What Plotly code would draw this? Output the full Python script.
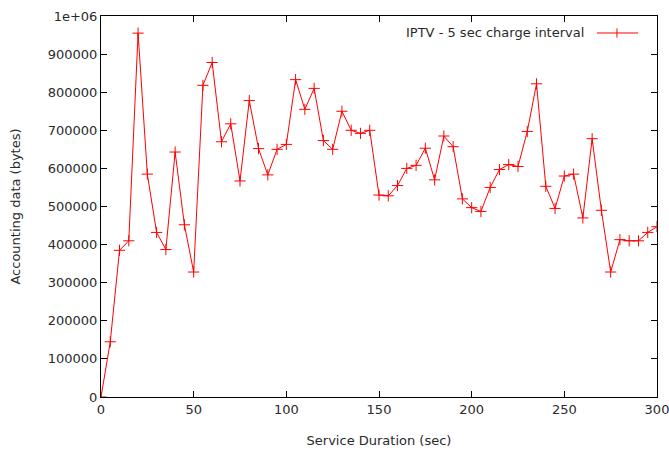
import plotly.graph_objects as go

duration = list(range(0, 301, 5))
accounting = [
    0, 145000, 385000, 410000, 955000, 585000, 432000, 387000, 643000, 452000,
    328000, 818000, 878000, 670000, 717000, 567000, 778000, 652000, 583000, 650000,
    663000, 833000, 755000, 810000, 673000, 650000, 750000, 700000, 692000, 700000,
    530000, 528000, 555000, 600000, 608000, 653000, 570000, 685000, 657000, 520000,
    497000, 487000, 550000, 597000, 610000, 605000, 697000, 822000, 553000, 495000,
    580000, 585000, 470000, 678000, 490000, 328000, 413000, 410000, 410000, 432000,
    447000,
]
series_name = "IPTV - 5 sec charge interval"
x_ticks = [0, 50, 100, 150, 200, 250, 300]
y_ticks = [0, 100000, 200000, 300000, 400000, 500000, 600000, 700000, 800000, 900000, 1000000]
y_tick_text = ["0", "100000", "200000", "300000", "400000", "500000", "600000",
               "700000", "800000", "900000", "1e+06"]

RED = "#ff0000"
TXT = "#2a2a2a"
FONT = "DejaVu Sans"
FS = 13

fig = go.Figure()
fig.add_trace(go.Scatter(
    x=duration, y=accounting, mode="lines+markers", name=series_name,
    line=dict(color=RED, width=1),
    marker=dict(symbol="cross-thin", size=8, line=dict(color=RED, width=1)),
    showlegend=False,
))

axis_common = dict(
    showline=True, linecolor="#000000", linewidth=1, mirror="allticks",
    ticks="inside", ticklen=6, tickcolor="#000000", tickwidth=1,
    showgrid=False, zeroline=False, ticklabeloverflow="allow", automargin=False,
    tickfont=dict(family=FONT, size=FS, color=TXT),
)

fig.update_layout(
    width=669, height=455,
    margin=dict(l=101, r=12, t=16, b=58),
    paper_bgcolor="white", plot_bgcolor="white",
    font=dict(family=FONT, size=FS, color=TXT),
    xaxis=dict(range=[0, 300], tickvals=x_ticks,
               title=dict(text="Service Duration (sec)", font=dict(family=FONT, size=FS, color=TXT), standoff=20),
               **axis_common),
    yaxis=dict(range=[0, 1000000], tickvals=y_ticks, ticktext=y_tick_text,
               title=dict(text="Accounting data (bytes)", font=dict(family=FONT, size=FS, color=TXT), standoff=24),
               **axis_common),
    showlegend=False,
)

# legend drawn gnuplot-style: text left, sample right
LY = 0.9554
fig.add_annotation(xref="paper", yref="paper", x=0.8723, y=LY, xanchor="right", yanchor="middle",
                   text=series_name, showarrow=False, font=dict(family=FONT, size=FS, color=TXT))
fig.add_shape(type="line", xref="paper", yref="paper", x0=0.892, x1=0.966, y0=LY, y1=LY,
              line=dict(color=RED, width=1))
fig.add_shape(type="line", xref="paper", yref="paper", x0=0.928, x1=0.928, y0=LY - 0.012, y1=LY + 0.012,
              line=dict(color=RED, width=1))

fig.write_html("out.html", config={"displayModeBar": False},
               post_script="document.body.style.margin='0';document.body.style.overflow='hidden';")
